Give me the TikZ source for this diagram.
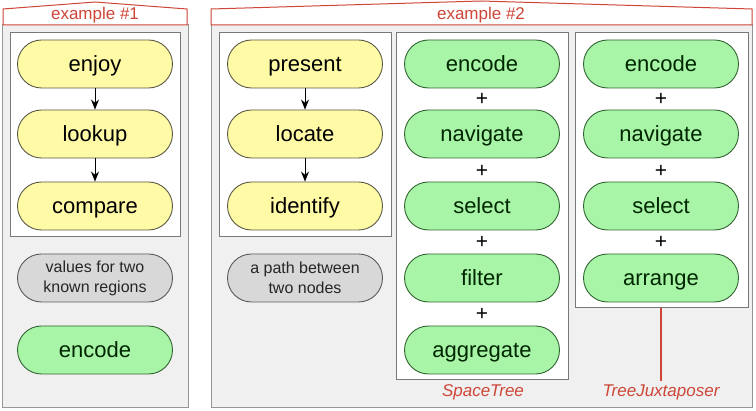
\documentclass[tikz,border=0pt]{standalone}
\usepackage{fontspec}
\setmainfont{Liberation Sans}
\usetikzlibrary{arrows.meta}
\definecolor{redc}{RGB}{205,70,55}
\definecolor{panelbg}{RGB}{240,240,240}
\definecolor{panelln}{RGB}{150,150,150}
\definecolor{yfill}{RGB}{255,250,165}
\definecolor{yline}{RGB}{90,90,70}
\definecolor{gfill}{RGB}{168,245,168}
\definecolor{gline}{RGB}{50,100,50}
\definecolor{grfill}{RGB}{216,216,216}
\definecolor{grline}{RGB}{90,90,90}
\tikzset{
  panel/.style={draw=panelln, fill=panelbg, line width=1pt},
  header/.style={draw=redc, fill=white, line width=1pt},
  headtext/.style={text=redc, font=\fontsize{17}{19}\selectfont},
  innerbox/.style={draw=panelln!80!black, fill=white, line width=1pt},
  pill/.style={rounded corners=24pt, minimum width=155pt, minimum height=48pt, line width=0.9pt, font=\fontsize{22}{24}\selectfont, inner sep=0pt},
  ynode/.style={pill, draw=yline, fill=yfill, text=black, text height=16pt, text depth=0pt},
  gnode/.style={pill, draw=gline, fill=gfill, text=black!85!green, text height=16pt, text depth=0pt},
  grnode/.style={pill, draw=grline, fill=grfill, text=black!85, font=\fontsize{16}{20}\selectfont, align=center},
  plus/.style={font=\fontsize{21}{21}\selectfont, inner sep=0pt},
  arr/.style={-{Stealth[length=10pt,width=8pt]}, line width=1pt},
  tool/.style={text=redc, font=\itshape\fontsize{17}{19}\selectfont},
}
\begin{document}
\begin{tikzpicture}[x=1pt,y=-1pt]
\useasboundingbox (0,0) rectangle (756,411);
% panels
\draw[panel] (2,25) rectangle (188,408);
\draw[panel] (211,25) rectangle (752,408);
\draw[header] (3,25) -- (3,9) -- (95,2) -- (187,9) -- (187,25) -- cycle;
\draw[header] (211,25) -- (211,9) -- (481,1) -- (752,9) -- (752,25) -- cycle;
\node[headtext] (h1) at (95,15) {example \#1};
\node[headtext] (h2) at (481,15) {example \#2};
% inner boxes
\draw[innerbox] (10,33) rectangle (180,237);
\draw[innerbox] (219,33) rectangle (391,237);
\draw[innerbox] (396,33) rectangle (568,380);
\draw[innerbox] (575,33) rectangle (748,308);
% example 1
\node[ynode] (enjoy) at (95,64) {enjoy};
\node[ynode] (lookup) at (95,134) {lookup};
\node[ynode] (compare) at (95,206) {compare};
\draw[arr] (enjoy) -- (lookup);
\draw[arr] (lookup) -- (compare);
\node[grnode] (vals) at (95,278) {values for two\\known regions};
\node[gnode] (enc1) at (95,350) {encode};
% example 2 column 1
\node[ynode] (present) at (305,64) {present};
\node[ynode] (locate) at (305,134) {locate};
\node[ynode] (identify) at (305,206) {identify};
\draw[arr] (present) -- (locate);
\draw[arr] (locate) -- (identify);
\node[grnode] (path) at (305,278) {a path between\\two nodes};
% SpaceTree
\node[gnode] (s1) at (482,64) {encode};
\node[gnode] (s2) at (482,134) {navigate};
\node[gnode] (s3) at (482,206) {select};
\node[gnode] (s4) at (482,278) {filter};
\node[gnode] (s5) at (482,350) {aggregate};
\node[plus] (sp1) at (482,99) {+};
\node[plus] (sp2) at (482,171) {+};
\node[plus] (sp3) at (482,242) {+};
\node[plus] (sp4) at (482,314) {+};
\node[tool] (st) at (483,392) {SpaceTree};
% TreeJuxtaposer
\node[gnode] (t1) at (661,64) {encode};
\node[gnode] (t2) at (661,134) {navigate};
\node[gnode] (t3) at (661,206) {select};
\node[gnode] (t4) at (661,278) {arrange};
\node[plus] (tp1) at (661,99) {+};
\node[plus] (tp2) at (661,171) {+};
\node[plus] (tp3) at (661,242) {+};
\coordinate (tjtop) at (661,308);
\node[tool] (tj) at (661,392) {TreeJuxtaposer};
\draw[redc, line width=1.2pt] (tjtop) -- (tj.north);
\end{tikzpicture}
\end{document}
